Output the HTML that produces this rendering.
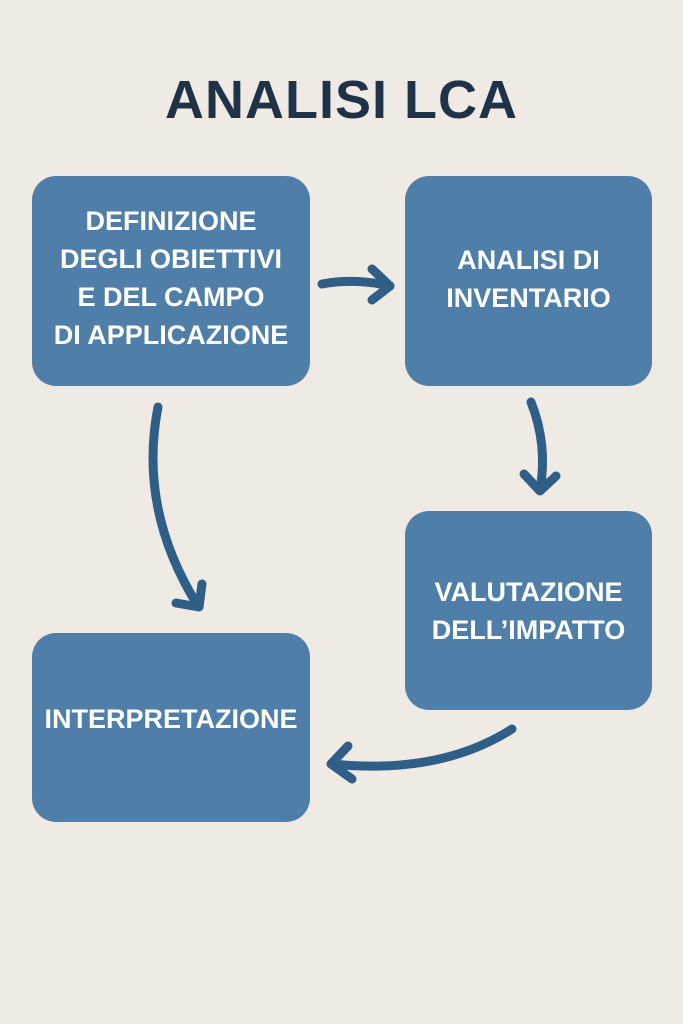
<!DOCTYPE html>
<html><head><meta charset="utf-8"><style>
html,body{margin:0;padding:0}
body{width:683px;height:1024px;background:#efebe4;position:relative;overflow:hidden;font-family:"Liberation Sans",sans-serif}
.t{position:absolute;top:69px;left:0;width:683px;text-align:center;font-size:54px;font-weight:bold;color:#1f3247;letter-spacing:1px}
.b{position:absolute;background:#4f7fa8;border-radius:24px;color:#fff;font-weight:bold;font-size:27px;line-height:38px;display:flex;align-items:center;justify-content:center;text-align:center}
svg{position:absolute;left:0;top:0}
</style></head><body>
<div class="t">ANALISI LCA</div>
<div class="b" style="left:32px;top:176px;width:278px;height:210px;padding-bottom:6px;box-sizing:border-box">DEFINIZIONE<br>DEGLI OBIETTIVI<br>E DEL CAMPO<br>DI APPLICAZIONE</div>
<div class="b" style="left:405px;top:176px;width:247px;height:210px;padding-bottom:4px;box-sizing:border-box">ANALISI DI<br>INVENTARIO</div>
<div class="b" style="left:405px;top:511px;width:247px;height:199px">VALUTAZIONE<br>DELL’IMPATTO</div>
<div class="b" style="left:32px;top:633px;width:278px;height:189px;padding-bottom:18px;box-sizing:border-box">INTERPRETAZIONE</div>
<svg width="683" height="1024" fill="none" stroke="#2f5f86" stroke-width="9" stroke-linecap="round" stroke-linejoin="round">
<path d="M322 284 Q355 278 390 286"/><path d="M372 269 L390 286 L372 300"/>
<path d="M531 402 Q548 445 540 490"/><path d="M524 474 L540 491 L556 476"/>
<path d="M158 407 Q138 510 198 606"/><path d="M176 603 L199 607 L202 584"/>
<path d="M512 729 Q440 775 332 764"/><path d="M348 746 L331 764 L352 779"/>
</svg>
</body></html>
